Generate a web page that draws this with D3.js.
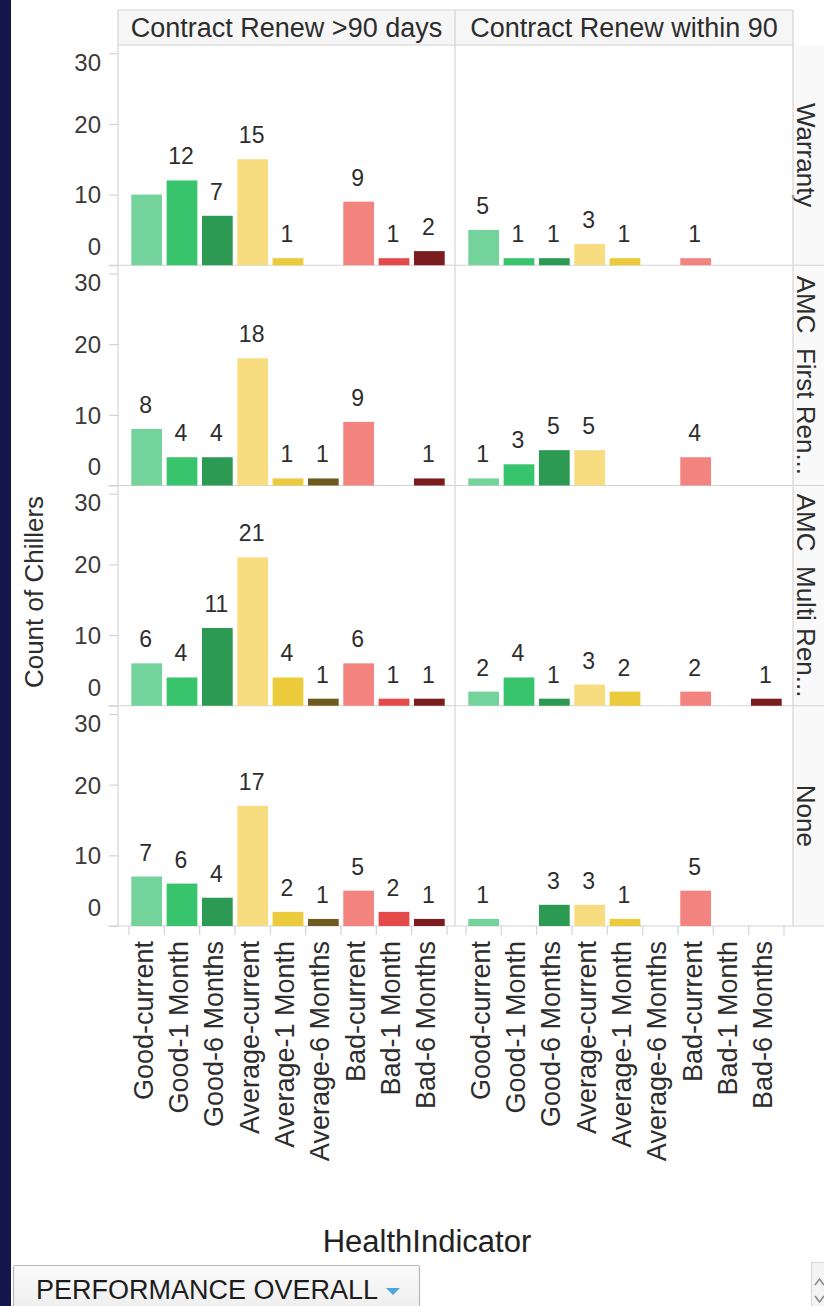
<!DOCTYPE html>
<html>
<head>
<meta charset="utf-8">
<script src="https://cdn.jsdelivr.net/npm/d3@7"></script>
<style>
  html, body { margin: 0; padding: 0; background: #ffffff; }
  svg { display: block; font-family: Arial, "Liberation Sans", sans-serif; }
</style>
</head>
<body>
<svg id="chart" width="824" height="1306"></svg>
<script>
// Health indicator categories along the x axis of every pane
const categories = ["Good-current", "Good-1 Month", "Good-6 Months",
  "Average-current", "Average-1 Month", "Average-6 Months",
  "Bad-current", "Bad-1 Month", "Bad-6 Months"];
const categoryColors = ["#74d39b", "#38c46d", "#2c9a52",
  "#f7dc80", "#ebcb3c", "#6e5b20",
  "#f2837f", "#e44a4a", "#7b1c1f"];

// Column facets (contract renewal) and row facets (contract type)
const columnLabels = ["Contract Renew >90 days", "Contract Renew within 90"];
const rowLabels = ["Warranty", "AMC  First Ren...", "AMC  Multi Ren...", "None"];

// Count of chillers per category; null = no chillers in that cell
const warrantyOver90     = [10, 12, 7, 15, 1, null, 9, 1, 2];
const warrantyWithin90   = [5, 1, 1, 3, 1, null, 1, null, null];
const firstRenOver90     = [8, 4, 4, 18, 1, 1, 9, null, 1];
const firstRenWithin90   = [1, 3, 5, 5, null, null, 4, null, null];
const multiRenOver90     = [6, 4, 11, 21, 4, 1, 6, 1, 1];
const multiRenWithin90   = [2, 4, 1, 3, 2, null, 2, null, 1];
const noneOver90         = [7, 6, 4, 17, 2, 1, 5, 2, 1];
const noneWithin90       = [1, null, 3, 3, 1, null, 5, null, null];

const yTicks = [0, 10, 20, 30];
const yMax = 30;
// mark labels that the view leaves out (row, column, category)
const hiddenLabels = [[0, 0, "Good-current"]];

const paneValues = [
  [warrantyOver90, warrantyWithin90],
  [firstRenOver90, firstRenWithin90],
  [multiRenOver90, multiRenWithin90],
  [noneOver90, noneWithin90]
];

// ---- layout ----
const W = 824, H = 1306;
const colEdges = [118, 455, 793];
const headerTop = 10, headerBottom = 45;
const plotBottom = 926;
const rowH = (plotBottom - headerBottom) / rowLabels.length;
const rowTop = i => headerBottom + i * rowH;
const rowBottom = i => headerBottom + (i + 1) * rowH;
const lineColor = "#d4d4d4";
const textColor = "#2d2d2d";

const svg = d3.select("#chart");
const color = d3.scaleOrdinal().domain(categories).range(categoryColors);

// page frame strip on the left
svg.append("rect").attr("x", 0).attr("y", 0).attr("width", 11).attr("height", H)
  .attr("fill", "#15164b");

// column header band
svg.append("rect")
  .attr("x", colEdges[0]).attr("y", headerTop)
  .attr("width", colEdges[2] - colEdges[0]).attr("height", headerBottom - headerTop)
  .attr("fill", "#f6f6f6");
// row header column
svg.append("rect")
  .attr("x", colEdges[2]).attr("y", headerBottom)
  .attr("width", W - colEdges[2]).attr("height", plotBottom - headerBottom)
  .attr("fill", "#f9f9f9");

const xScales = columnLabels.map((c, j) =>
  d3.scaleBand().domain(categories)
    .range([colEdges[j] + 11, colEdges[j] + 329])
    .paddingInner(0.13).paddingOuter(0.065));

const yScales = rowLabels.map((r, i) =>
  d3.scaleLinear().domain([0, yMax]).range([rowBottom(i), rowBottom(i) - 212]));

// column headers
columnLabels.forEach((label, j) => {
  svg.append("text")
    .attr("x", (colEdges[j] + colEdges[j + 1]) / 2).attr("y", 37)
    .attr("text-anchor", "middle")
    .style("font-size", "27px").attr("fill", textColor)
    .text(label);
});

// row headers (rotated, reading top to bottom)
rowLabels.forEach((label, i) => {
  svg.append("text")
    .attr("transform", `translate(797,${(rowTop(i) + rowBottom(i)) / 2}) rotate(90)`)
    .attr("text-anchor", "middle")
    .style("font-size", "26px").style("white-space", "pre")
    .attr("fill", textColor)
    .text(label);
});

// grid frame lines
const frame = svg.append("g").attr("stroke", lineColor).attr("stroke-width", 1.2);
frame.append("line").attr("x1", colEdges[0]).attr("x2", colEdges[2])
  .attr("y1", headerTop).attr("y2", headerTop);
frame.append("line").attr("x1", colEdges[0]).attr("x2", colEdges[2])
  .attr("y1", headerBottom).attr("y2", headerBottom);
colEdges.forEach(x => {
  frame.append("line").attr("x1", x).attr("x2", x)
    .attr("y1", headerTop).attr("y2", plotBottom);
});
rowLabels.forEach((r, i) => {
  frame.append("line").attr("x1", 108).attr("x2", W)
    .attr("y1", rowBottom(i)).attr("y2", rowBottom(i));
});

// y axes, one per row
rowLabels.forEach((r, i) => {
  const y = yScales[i];
  const g = svg.append("g").attr("transform", `translate(${colEdges[0]},0)`)
    .call(d3.axisLeft(y).tickValues(yTicks).tickSize(9).tickPadding(8));
  g.select(".domain").remove();
  g.selectAll(".tick line").attr("stroke", lineColor).attr("stroke-width", 1.2);
  const lo = rowTop(i) + 17, hi = rowBottom(i) - 19;
  g.selectAll(".tick text")
    .style("font-size", "24px").attr("fill", "#3a3a3a")
    .attr("dy", "0.35em")
    .attr("y", d => {
      const p = y(d);
      return Math.max(lo, Math.min(hi, p)) - p;
    });
});

// bars and value labels
paneValues.forEach((rowVals, i) => {
  rowVals.forEach((vals, j) => {
    const x = xScales[j], y = yScales[i];
    const data = categories.map((c, k) => ({ cat: c, value: vals[k] }))
      .filter(d => d.value != null);
    const pane = svg.append("g");
    pane.selectAll("rect").data(data).join("rect")
      .attr("x", d => x(d.cat))
      .attr("width", x.bandwidth())
      .attr("y", d => y(d.value))
      .attr("height", d => y(0) - y(d.value))
      .attr("fill", d => color(d.cat));
    const labelled = data.filter(d =>
      !hiddenLabels.some(h => h[0] === i && h[1] === j && h[2] === d.cat));
    pane.selectAll("text").data(labelled).join("text")
      .attr("x", d => x(d.cat) + x.bandwidth() / 2 - 1)
      .attr("y", d => y(d.value) - 16)
      .attr("text-anchor", "middle")
      .style("font-size", "23px").attr("fill", textColor)
      .text(d => d.value);
  });
});

// x axes with rotated category labels and band-edge ticks
columnLabels.forEach((c, j) => {
  const x = xScales[j];
  const g = svg.append("g").attr("transform", `translate(0,${plotBottom})`)
    .call(d3.axisBottom(x).tickSize(0));
  g.select(".domain").remove();
  g.selectAll(".tick text")
    .attr("transform", "rotate(-90)")
    .attr("x", -15).attr("y", 6).attr("dy", 0)
    .style("text-anchor", "end")
    .style("font-size", "27px").attr("fill", textColor);
  const step = x.step();
  const start = x.range()[0];
  const edges = d3.range(categories.length + 1).map(k => start + k * step);
  g.selectAll("line.edge").data(edges).join("line").attr("class", "edge")
    .attr("x1", d => d).attr("x2", d => d)
    .attr("y1", 0).attr("y2", 9)
    .attr("stroke", lineColor).attr("stroke-width", 1.2);
});

// axis titles
svg.append("text")
  .attr("transform", "translate(43,592) rotate(-90)")
  .attr("text-anchor", "middle")
  .style("font-size", "26px").attr("fill", textColor)
  .text("Count of Chillers");
svg.append("text")
  .attr("x", 427).attr("y", 1252)
  .attr("text-anchor", "middle")
  .style("font-size", "31px").attr("fill", "#222")
  .text("HealthIndicator");

// filter dropdown
const defs = svg.append("defs");
const grad = defs.append("linearGradient").attr("id", "btnGrad")
  .attr("x1", 0).attr("y1", 0).attr("x2", 0).attr("y2", 1);
grad.append("stop").attr("offset", "0%").attr("stop-color", "#fbfbfb");
grad.append("stop").attr("offset", "100%").attr("stop-color", "#ececec");
svg.append("rect")
  .attr("x", 13.5).attr("y", 1265.5).attr("width", 406).attr("height", 50)
  .attr("rx", 2).attr("fill", "url(#btnGrad)")
  .attr("stroke", "#b8b8b8").attr("stroke-width", 1.2);
svg.append("text")
  .attr("x", 36).attr("y", 1299)
  .style("font-size", "27px").attr("fill", "#1c1c1c")
  .text("PERFORMANCE OVERALL");
svg.append("path")
  .attr("d", "M386,1288 L400,1288 L393,1295 Z")
  .attr("fill", "#4ea7d8");

// scroll control at the bottom right
svg.append("rect")
  .attr("x", 811.5).attr("y", 1262.5).attr("width", 20).attr("height", 50)
  .attr("fill", "#f3f3f3").attr("stroke", "#d6d6d6");
svg.append("path")
  .attr("d", "M815,1285 L819.5,1279 L824,1285 M815,1296 L819.5,1302 L824,1296")
  .attr("fill", "none").attr("stroke", "#8a8a8a").attr("stroke-width", 1.6);
</script>
</body>
</html>
